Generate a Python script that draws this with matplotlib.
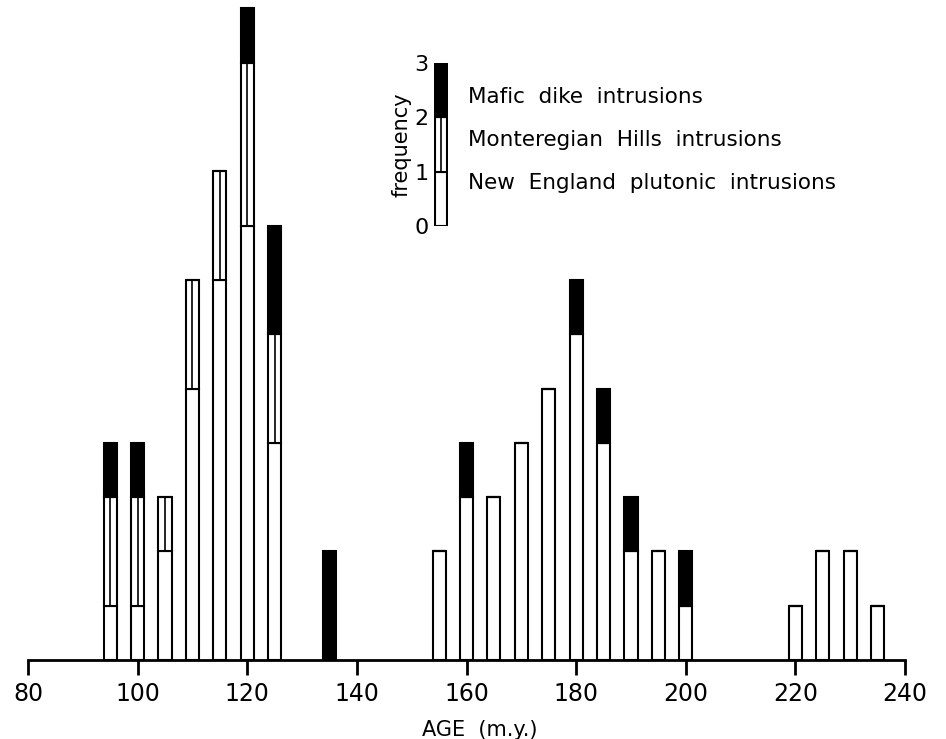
import matplotlib.pyplot as plt
import numpy as np

# ages (m.y.) and number of intrusions in each group
ages = [95, 100, 105, 110, 115, 120, 125, 135, 155, 160, 165, 170, 175,
        180, 185, 190, 195, 200, 220, 225, 230, 235]
new_england = [1, 1, 2, 5, 7, 8, 4, 0, 2, 3, 3, 4, 5, 6, 4, 2, 2, 1, 1, 2, 2, 1]
monteregian = [2, 2, 1, 2, 2, 3, 2, 0, 0, 0, 0, 0, 0, 0, 0, 0, 0, 0, 0, 0, 0, 0]
mafic = [1, 1, 0, 0, 0, 1, 2, 2, 0, 1, 0, 0, 0, 1, 1, 1, 0, 1, 0, 0, 0, 0]

labels = ['Mafic  dike  intrusions', 'Monteregian  Hills  intrusions',
          'New  England  plutonic  intrusions']
key_values = [1, 1, 1]  # one unit of each group in the key bar

plt.rcParams['font.family'] = 'DejaVu Sans'

ne = np.array(new_england)
mh = np.array(monteregian)
mf = np.array(mafic)
w = 2.4
lw = 1.5

fig = plt.figure(figsize=(9.46, 7.39), dpi=100)
ax = fig.add_axes([28 / 946, 79 / 739, 877 / 946, 657 / 739])

ax.bar(ages, ne, width=w, color='white', edgecolor='black', lw=lw)
ax.bar(ages, mh, width=w, bottom=ne, color='white', edgecolor='black', lw=lw)
ax.bar(ages, mf, width=w, bottom=ne + mh, color='black', edgecolor='black', lw=lw)
# the split line inside the Monteregian segments
has_mh = mh > 0
ax.vlines(np.array(ages)[has_mh], ne[has_mh], (ne + mh)[has_mh], color='black', lw=1.2)

ax.set_xlim(80, 240)
ax.set_ylim(0, 12.1)
for s in ['top', 'right', 'left']:
    ax.spines[s].set_visible(False)
ax.spines['bottom'].set_linewidth(2)
ax.set_yticks([])
ax.set_xticks(range(80, 241, 20))
ax.tick_params(axis='x', length=11, width=2, pad=5, labelsize=17)
ax.set_xlabel('AGE  (m.y.)', fontsize=15)
ax.xaxis.set_label_coords(0.515, -0.092)

# key bar
kax = fig.add_axes([434 / 946, (739 - 226) / 739, 14 / 946, 163 / 739])
kcols = ['white', 'white', 'black']
bottom = 0
for i, v in enumerate(key_values):
    kax.bar(0, v, width=1, bottom=bottom, color=kcols[i], edgecolor='black', lw=lw)
    if i == 1:
        kax.vlines(0, bottom, bottom + v, color='black', lw=1.2)
    bottom += v
kax.set_xlim(-0.55, 0.55)
kax.set_ylim(0, 3)
for s in kax.spines.values():
    s.set_visible(False)
kax.set_xticks([])
kax.set_yticks([0, 1, 2, 3])
kax.tick_params(axis='y', length=0, pad=4, labelsize=16)
kax.set_ylabel('frequency', fontsize=15, labelpad=2)
tr = kax.get_yaxis_transform()
for lab, y in zip(labels, [2.37, 1.58, 0.79]):
    kax.text(2.45, y, lab, transform=tr, fontsize=15.5, va='center', ha='left',
             clip_on=False)

plt.savefig('out.png', dpi=100)
